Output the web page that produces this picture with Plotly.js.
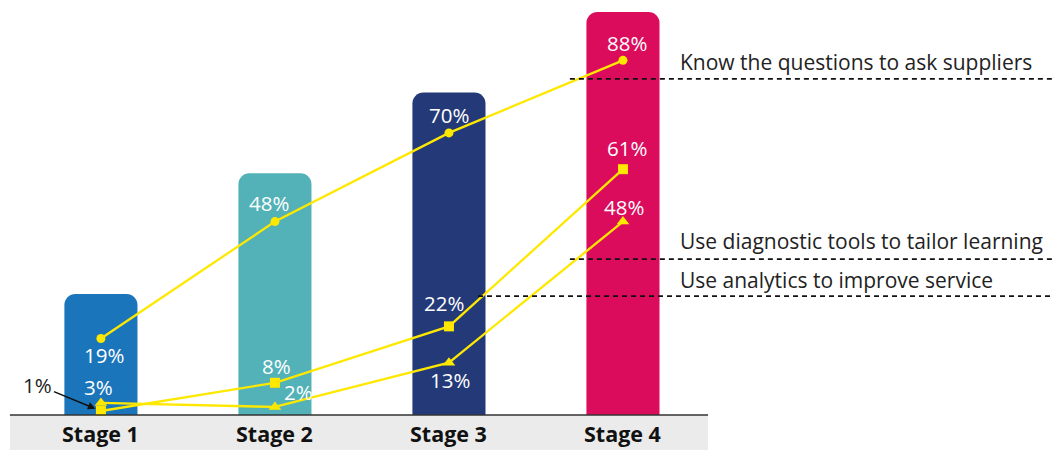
<!DOCTYPE html>
<html>
<head>
<meta charset="utf-8">
<script src="https://cdn.plot.ly/plotly-3.0.1.min.js"></script>
<style>html,body{margin:0;padding:0;background:#fff;}#chart{width:1054px;height:450px;}</style>
</head>
<body>
<div id="chart"></div>
<script>
// ---- data ----
const stages = ["Stage 1", "Stage 2", "Stage 3", "Stage 4"];
const stageLevel = [30, 60, 80, 100];
const barColors = ["#1B75BB", "#52B2B8", "#243A78", "#DC0C5C"];
const seriesNames = ["Know the questions to ask suppliers", "Use diagnostic tools to tailor learning", "Use analytics to improve service"];
const knowQuestions = [19, 48, 70, 88];
const diagnosticTools = [1, 8, 22, 61];
const analyticsService = [3, 2, 13, 48];

// ---- styling ----
const YELLOW = "#FFE800";
const FONT = "Open Sans, Noto Sans, sans-serif";
const series = [
  {vals: knowQuestions, symbol: "circle", size: 9, offs: [[3,-17],[-6,19],[0,18],[4,17]]},
  {vals: diagnosticTools, symbol: "square", size: 10, offs: [null,[2,17],[-5,23],[4,21]]},
  {vals: analyticsService, symbol: "triangle-up", size: 11, offs: [[-2,16],[24,15],[1,-17],[1,15]]}
];

const traces = [{
  type: "bar", x: stages, y: stageLevel, width: 0.42,
  marker: {color: barColors, cornerradius: 11, line: {width: 0}},
  hoverinfo: "skip"
}];
series.forEach(s => traces.push({
  type: "scatter", mode: "lines+markers", x: stages, y: s.vals,
  line: {color: YELLOW, width: 2.3},
  marker: {color: YELLOW, symbol: s.symbol, size: s.size},
  hoverinfo: "skip", cliponaxis: false
}));

const annotations = [];
series.forEach(s => s.vals.forEach((v, i) => {
  const o = s.offs[i];
  if (!o) return;
  annotations.push({x: stages[i], y: v, text: v + "%", showarrow: false,
    xshift: o[0], yshift: o[1], font: {family: FONT, size: 20.5, color: "#ffffff"}});
}));
// 1% callout with arrow
annotations.push({x: stages[0], y: diagnosticTools[0], text: diagnosticTools[0] + "%",
  showarrow: true, ax: -63, ay: -26, arrowhead: 2, arrowsize: 1, arrowwidth: 1.5,
  arrowcolor: "#111", standoff: 6, font: {family: FONT, size: 20.5, color: "#222"}});
// stage labels
stages.forEach(s => annotations.push({x: s, y: -4.7, text: "<b>" + s + "</b>", showarrow: false,
  font: {family: FONT, size: 21.5, color: "#111"}}));
// legend labels
const labelY = [87.6, 43.2, 33.5];
seriesNames.forEach((n, i) => annotations.push({x: 3.316, y: labelY[i], text: n, xanchor: "left",
  showarrow: false, font: {family: FONT, size: 21, color: "#222"}}));

const dashStyle = {color: "#111", width: 1.8, dash: "5px,4px"};
const shapes = [
  {type: "rect", xref: "x", yref: "y", x0: -0.523, x1: 3.489, y0: -8.7, y1: 0, fillcolor: "#EBEBEB", line: {width: 0}, layer: "below"},
  {type: "line", xref: "x", yref: "y", x0: -0.523, x1: 3.489, y0: 0, y1: 0, line: {color: "#333", width: 1.5}, layer: "above"},
  {type: "line", xref: "x", yref: "y", x0: 2.695, x1: 5.48, y0: 83.4, y1: 83.4, line: dashStyle, layer: "above"},
  {type: "line", xref: "x", yref: "y", x0: 2.695, x1: 5.48, y0: 38.7, y1: 38.7, line: dashStyle, layer: "above"},
  {type: "line", xref: "x", yref: "y", x0: 2.167, x1: 5.48, y0: 29.5, y1: 29.5, line: dashStyle, layer: "above"}
];

const layout = {
  width: 1054, height: 450, margin: {l: 0, r: 0, t: 0, b: 0},
  paper_bgcolor: "#fff", plot_bgcolor: "#fff", showlegend: false,
  xaxis: {type: "category", categoryarray: stages, range: [-0.580, 5.477], visible: false, fixedrange: true},
  yaxis: {range: [-8.68, 102.98], visible: false, zeroline: false, fixedrange: true},
  annotations: annotations, shapes: shapes, font: {family: FONT}
};
Plotly.newPlot("chart", traces, layout, {displayModeBar: false, staticPlot: true});
</script>
</body>
</html>
